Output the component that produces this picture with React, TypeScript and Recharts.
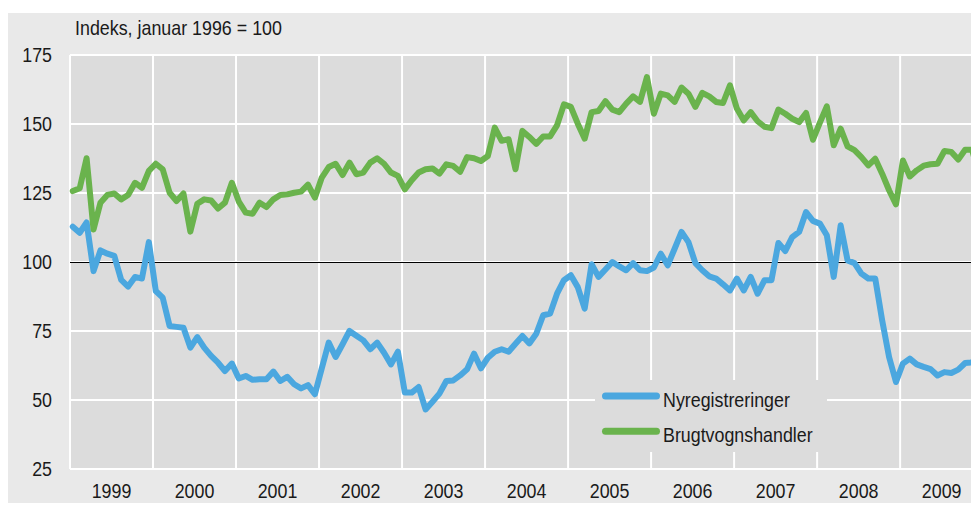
import { LineChart, Line, XAxis, YAxis, CartesianGrid, ReferenceLine, Legend } from 'recharts'

// Monthly index, Jan 1999 - Dec 2009 (Indeks, januar 1996 = 100)
const yearLabels = ['1999', '2000', '2001', '2002', '2003', '2004', '2005', '2006', '2007', '2008', '2009']

const nyregistreringer = [
  112.8, 110.6, 114.3, 96.7, 104.2, 103.0, 102.2, 93.5, 91.1, 94.6, 94.0, 107.2,
  89.5, 87.1, 76.8, 76.5, 76.2, 69.0, 72.8, 69.0, 66.0, 63.5, 60.5, 63.2,
  57.8, 58.7, 57.3, 57.5, 57.5, 60.3, 56.9, 58.4, 55.7, 54.2, 55.4, 52.1,
  61.5, 70.8, 65.6, 70.2, 75.0, 73.3, 71.6, 68.4, 70.8, 67.1, 62.9, 67.5,
  52.7, 52.7, 54.7, 46.6, 49.4, 52.3, 56.9, 57.1, 58.9, 61.1, 66.8, 61.5,
  65.3, 67.5, 68.4, 67.5, 70.4, 73.2, 70.5, 74.0, 80.7, 81.3, 88.5, 93.4,
  95.2, 90.9, 83.1, 99.2, 94.6, 97.3, 100.0, 98.4, 97.0, 99.6, 97.0, 96.7,
  98.0, 103.0, 98.8, 104.8, 110.9, 107.2, 99.6, 97.0, 94.8, 94.0, 91.9, 89.7,
  94.0, 89.7, 94.6, 88.5, 93.4, 93.4, 106.9, 104.0, 109.0, 110.9, 118.1, 114.9,
  113.9, 109.7, 94.6, 113.3, 100.6, 99.6, 95.8, 94.0, 94.0, 78.9, 65.6, 56.5,
  63.2, 65.0, 62.9, 62.0, 61.2, 58.9, 60.1, 59.8, 61.0, 63.4, 63.6, 67.0,
]

const brugtvognshandler = [
  125.7, 126.7, 137.6, 111.8, 121.5, 124.3, 124.8, 122.7, 124.3, 128.7, 126.9, 133.0,
  135.6, 133.6, 125.1, 122.1, 124.8, 111.0, 121.1, 122.7, 122.3, 119.4, 121.5, 128.7,
  121.9, 117.9, 117.5, 121.5, 119.9, 122.7, 124.3, 124.5, 125.1, 125.5, 128.0, 123.3,
  130.6, 134.4, 135.6, 131.5, 136.0, 131.8, 132.4, 136.0, 137.6, 135.6, 132.4, 131.2,
  126.3, 129.6, 132.4, 133.6, 133.9, 132.0, 135.4, 134.8, 132.7, 138.0, 137.6, 136.6,
  138.4, 148.7, 143.9, 144.5, 133.6, 147.5, 145.3, 142.8, 145.5, 145.5, 149.5, 157.1,
  156.2, 150.1, 144.7, 154.3, 154.7, 158.3, 155.2, 154.3, 157.4, 160.0, 158.0, 167.0,
  153.7, 161.0, 160.4, 158.0, 163.2, 161.0, 156.2, 161.3, 160.0, 158.0, 157.6, 164.0,
  155.6, 151.3, 154.3, 151.0, 149.0, 148.5, 155.2, 153.7, 151.9, 150.7, 154.0, 144.3,
  150.5, 156.4, 142.3, 148.3, 141.9, 140.5, 138.0, 135.0, 137.4, 132.0, 126.0, 120.9,
  136.8, 131.0, 133.2, 134.9, 135.4, 135.6, 140.2, 139.9, 137.1, 140.7, 140.7, 131.4,
]

const yTicks = [25, 50, 75, 100, 125, 150, 175]

const BLUE = '#4ba7df'
const GREEN = '#6ab34d'
const PANEL = '#e9e9e9'
const PLOT_BG = '#dcdcdc'
const TEXT = '#1a1a1a'
const FONT = "'Liberation Sans', Arial, sans-serif"
const FONT_SIZE = 21
const SQUEEZE = 0.85 // condensed look of the original typeface

// x is months since Jan 1999, each value sits just before mid-month
const data = nyregistreringer.map((v, i) => ({
  t: i + 0.4,
  ny: v,
  brugt: brugtvognshandler[i],
}))
const yearStarts = yearLabels.map((_, i) => i * 12)
const yearMids = yearLabels.map((_, i) => i * 12 + 6)

const legendItems = [
  { name: 'Nyregistreringer', color: BLUE },
  { name: 'Brugtvognshandler', color: GREEN },
]

function CondensedText({ x, y, anchor, dy, children }: any) {
  return (
    <g transform={`translate(${x},${y}) scale(${SQUEEZE},1)`}>
      <text textAnchor={anchor} dy={dy} fontSize={FONT_SIZE} fontFamily={FONT} fill={TEXT}>
        {children}
      </text>
    </g>
  )
}

const YearTick = ({ x, y, payload }: any) => (
  <CondensedText x={x} y={y} anchor="middle" dy="0.71em">
    {yearLabels[Math.round((payload.value - 6) / 12)]}
  </CondensedText>
)

const ValueTick = ({ x, y, payload }: any) => (
  <CondensedText x={x} y={y} anchor="end" dy="0.355em">
    {payload.value}
  </CondensedText>
)

// 1px black line snapped to the pixel grid
const CrispLine = (props: any) => (
  <line x1={props.x1} x2={props.x2} y1={props.y1 + 0.5} y2={props.y2 + 0.5} stroke="#000" strokeWidth={1} />
)

function LegendBox() {
  return (
    <svg width={232} height={72} style={{ display: 'block', background: PLOT_BG }}>
      {legendItems.map((item, i) => (
        <g key={item.name}>
          <line
            x1={10.5}
            x2={61.5}
            y1={16 + i * 35.3}
            y2={16 + i * 35.3}
            stroke={item.color}
            strokeWidth={7}
            strokeLinecap="round"
          />
          <CondensedText x={68} y={27 + i * 34.7} anchor="start" dy={0}>
            {item.name}
          </CondensedText>
        </g>
      ))}
    </svg>
  )
}

export default function App() {
  return (
    <div
      style={{ position: 'relative', width: 971, height: 503, marginBottom: -8, background: '#fff' }}
    >
      <div
        style={{ position: 'absolute', left: 0, top: 5, width: 971, height: 498, background: PANEL }}
      />
      <div
        style={{
          position: 'absolute',
          left: 67,
          top: 9,
          fontFamily: FONT,
          fontSize: FONT_SIZE,
          lineHeight: `${FONT_SIZE}px`,
          color: TEXT,
          whiteSpace: 'nowrap',
          transform: `scaleX(${SQUEEZE})`,
          transformOrigin: 'left top',
        }}
      >
        Indeks, januar 1996 = 100
      </div>
      <div style={{ position: 'absolute', left: 0, top: 0 }}>
        <LineChart width={971} height={503} data={data} margin={{ top: 47, right: 0, bottom: 0, left: 0 }}>
          <CartesianGrid
            vertical={false}
            fill={PLOT_BG}
            stroke="#ffffff"
            strokeWidth={2}
            fillOpacity={1}
          />
          <XAxis
            dataKey="t"
            type="number"
            domain={[0, 131.4]}
            ticks={yearMids}
            interval={0}
            axisLine={false}
            tickLine={false}
            tickSize={0}
            tickMargin={14}
            height={42}
            tick={<YearTick />}
          />
          <YAxis
            type="number"
            domain={[25, 175]}
            ticks={yTicks}
            interval={0}
            axisLine={false}
            tickLine={false}
            tickSize={0}
            tickMargin={18}
            width={62}
            tick={<ValueTick />}
          />
          {yearStarts.map((t) => (
            <ReferenceLine key={t} x={t} stroke="#ffffff" strokeWidth={2} />
          ))}
          <ReferenceLine y={100} stroke="#000000" strokeWidth={1} shape={CrispLine} />
          <Legend
            layout="horizontal"
            verticalAlign="middle"
            align="center"
            wrapperStyle={{ left: 587, top: 372, width: 232, height: 72 }}
            content={() => <LegendBox />}
          />
          <Line
            type="linear"
            dataKey="ny"
            name="Nyregistreringer"
            stroke={BLUE}
            strokeWidth={6}
            strokeLinejoin="round"
            strokeLinecap="round"
            dot={false}
            activeDot={false}
            isAnimationActive={false}
          />
          <Line
            type="linear"
            dataKey="brugt"
            name="Brugtvognshandler"
            stroke={GREEN}
            strokeWidth={6}
            strokeLinejoin="round"
            strokeLinecap="round"
            dot={false}
            activeDot={false}
            isAnimationActive={false}
          />
        </LineChart>
      </div>
    </div>
  )
}
